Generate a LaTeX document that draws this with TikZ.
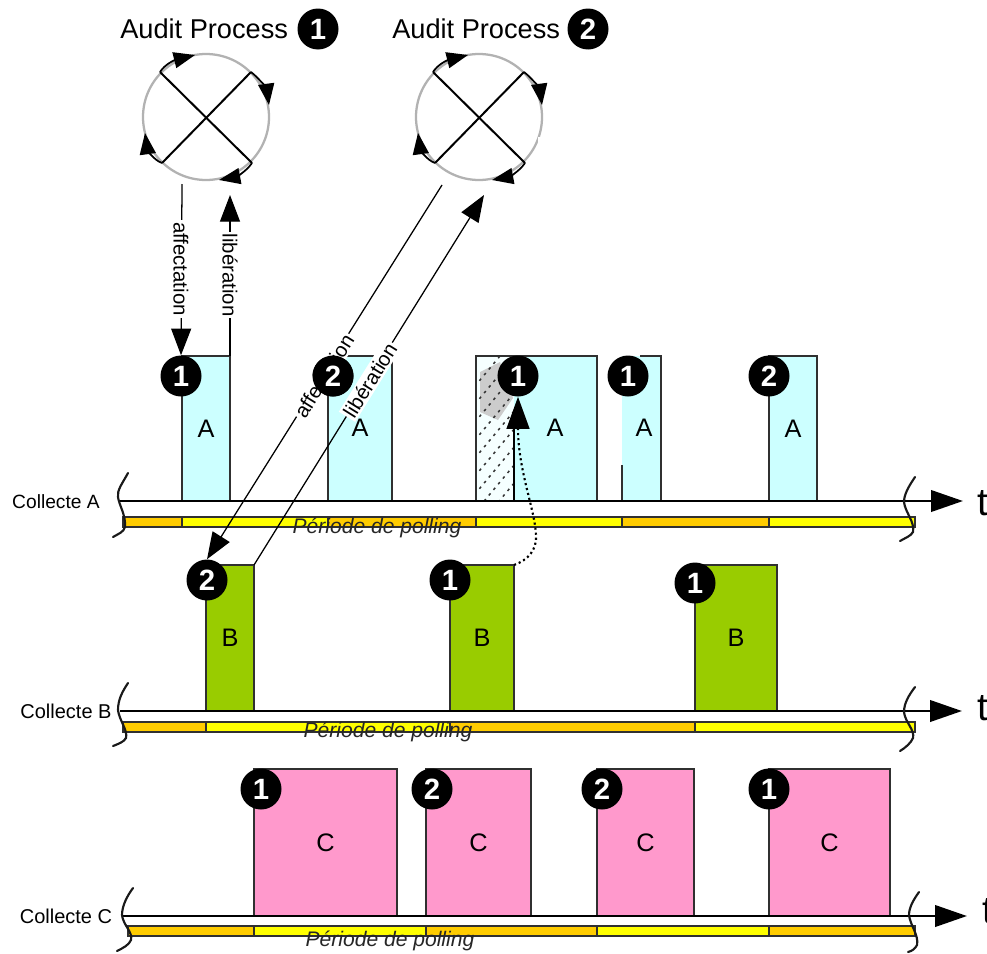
\documentclass[tikz,border=0pt]{standalone}
\usepackage{fontspec}
\setmainfont{Liberation Sans}
\usetikzlibrary{arrows.meta}
\definecolor{cya}{HTML}{CCFFFF}
\definecolor{grn}{HTML}{99CC00}
\definecolor{pnk}{HTML}{FF99CC}
\definecolor{org}{HTML}{FFCC00}
\definecolor{yel}{HTML}{FFFF00}
\definecolor{edge}{HTML}{303030}
\tikzset{
  x=0.75pt,y=-0.75pt,
  num/.style={circle,fill=black,text=white,minimum size=30.75pt,inner sep=0pt,font=\fontsize{22}{22}\selectfont\bfseries},
  collbox/.style={draw=edge,line width=1.1pt,anchor=south west,inner sep=0pt,outer sep=0pt,font=\fontsize{19}{19}\selectfont},
  boxa/.style={collbox,fill=cya},
  boxb/.style={collbox,fill=grn},
  boxc/.style={collbox,fill=pnk},
  boxletter/.style={font=\fontsize{19}{19}\selectfont,inner sep=0pt},
  title/.style={anchor=west,font=\fontsize{20.4}{20.4}\selectfont,inner sep=0pt},
  colname/.style={font=\fontsize{14.4}{14.4}\selectfont,inner sep=0pt},
  colnameb/.style={font=\fontsize{15}{15}\selectfont,inner sep=0pt},
  axisline/.style={line width=2.2pt,-{Triangle[length=24pt,width=16pt]}},
  barseg/.style={draw=edge,line width=0.9pt},
  squig/.style={line width=1.6pt,line cap=round,black!90},
  polling/.style={font=\fontsize{15.8}{15.8}\selectfont\itshape,text=black!85,inner sep=0pt},
  timelabel/.style={anchor=west,font=\fontsize{29}{29}\selectfont,inner sep=0pt},
  assign/.style={line width=0.95pt,black,-{Triangle[length=20pt,width=15pt]}},
  edgelabel/.style={fill=white,inner sep=1.5pt,font=\fontsize{15.3}{15.3}\selectfont},
  spin/.style={line width=1.3pt,-{Triangle[length=16pt,width=12pt]}},
  ring/.style={draw=black!30,line width=1.7pt,circle,minimum size=94.5pt,inner sep=0pt},
  crossline/.style={line width=1.5pt},
}
\begin{document}
\begin{tikzpicture}
\useasboundingbox (0,0) rectangle (987,953);
\fill[white] (0,0) rectangle (987,953);

% Audit processes
\node[title] (t1) at (120,29) {Audit Process};
\node[title] (t2) at (392,29) {Audit Process};
\node[num] (tn1) at (318,29) {1};
\node[num] (tn2) at (588,29) {2};

\foreach \dx/\nm in {0/p,273/q}{
\begin{scope}[xshift=\dx*0.75pt]
  \node[ring] (\nm) at (206,117) {};
  \coordinate (\nm a) at (160,72);
  \coordinate (\nm b) at (251,72);
  \coordinate (\nm c) at (252,163);
  \coordinate (\nm d) at (162,163);
  \draw[crossline] (\nm a) -- (\nm c);
  \draw[crossline] (\nm b) -- (\nm d);
  \draw[spin] (\nm a) .. controls (165,64) and (175,60) .. (195,55);
  \draw[spin] (\nm b) .. controls (260,79) and (267,90) .. (269,105);
  \draw[spin] (\nm c) .. controls (246,172) and (235,177) .. (219,180);
  \draw[spin] (\nm d) .. controls (153,160) and (147,148) .. (145,133);
\end{scope}
}
\fill[white] (538,137) rectangle (548,150);

% Boxes
\node[boxa,minimum width=48*0.75pt,minimum height=145*0.75pt] (a1) at (182,501) {A};
\node[boxa,minimum width=64*0.75pt,minimum height=145*0.75pt] (a2) at (328,501) {};
\node[boxletter] at (360,428) {A};
\node[boxa,minimum width=121*0.75pt,minimum height=145*0.75pt] (a3) at (476,501) {};
\node[boxletter] (a3l) at (555,428) {A};
\begin{scope}
  \clip (477,357) rectangle (514,500);
  \fill[white!80!cya] (477,357) rectangle (514,500);
  \fill[black!20] (480,372) -- (500,362) -- (513,398) -- (498,420) -- (480,412) -- cycle;
  \foreach \k in {0,...,9}{
    \draw[black!80,line width=1.1pt,dash pattern=on 2pt off 3.5pt] (470,392+\k*18) -- (530,392+\k*18-72);
  }
\end{scope}
\draw[edge,line width=1.1pt] (476,356) rectangle (597,501);
\draw[black,line width=1.1pt] (514,428) -- (514,501);
\fill[cya] (622,356) rectangle (661,501);
\draw[edge,line width=1.1pt] (622,465) -- (622,501) (661,501) -- (661,356) -- (640,356);
\node[boxletter] (a4l) at (644,428) {A};
\node[boxa,minimum width=48*0.75pt,minimum height=145*0.75pt] (a5) at (769,501) {A};

\node[boxb,minimum width=48*0.75pt,minimum height=146*0.75pt] (b1) at (206,711) {B};
\node[boxb,minimum width=64*0.75pt,minimum height=146*0.75pt] (b2) at (450,711) {B};
\node[boxb,minimum width=82*0.75pt,minimum height=146*0.75pt] (b3) at (695,711) {B};

\node[boxc,minimum width=143*0.75pt,minimum height=147*0.75pt] (c1) at (254,916) {C};
\node[boxc,minimum width=105*0.75pt,minimum height=147*0.75pt] (c2) at (426,916) {C};
\node[boxc,minimum width=97*0.75pt,minimum height=147*0.75pt] (c3) at (597,916) {C};
\node[boxc,minimum width=121*0.75pt,minimum height=147*0.75pt] (c4) at (769,916) {C};

% Axes
\coordinate (ax0) at (120,501); \coordinate (ax1) at (963,501);
\coordinate (bx0) at (120,711); \coordinate (bx1) at (962,711);
\coordinate (cx0) at (122,916); \coordinate (cx1) at (967,916);
\draw[axisline] (ax0) -- (ax1);
\draw[axisline] (bx0) -- (bx1);
\draw[axisline] (cx0) -- (cx1);
\node[timelabel] (ta) at (977,503) {t};
\node[timelabel] (tb) at (977,708) {t};
\node[timelabel] (tc) at (982,911) {t};

% Polling bars
\foreach \xa/\xb/\col in {123/182/org,182/328/yel,328/476/org,476/622/yel,622/769/org,769/915/yel}
  \draw[barseg,fill=\col] (\xa,517) rectangle (\xb,527);
\foreach \xa/\xb/\col in {123/206/org,206/450/yel,450/695/org,695/915/yel}
  \draw[barseg,fill=\col] (\xa,722) rectangle (\xb,732);
\foreach \xa/\xb/\col in {128/254/org,254/426/yel,426/597/org,597/769/yel,769/915/org}
  \draw[barseg,fill=\col] (\xa,926) rectangle (\xb,936);

% Squiggles
\draw[squig] (128,473) .. controls (122,484) and (117,490) .. (118,497) .. controls (119,505) and (126,515) .. (125,527) .. controls (124,532) and (118,534) .. (113,537);
\draw[squig] (915,477) .. controls (909,486) and (904,494) .. (904,502) .. controls (905,512) and (915,522) .. (913,532) .. controls (911,536) and (905,538) .. (900,541);
\draw[squig] (128,683) .. controls (122,692) and (118,700) .. (118,710) .. controls (119,720) and (128,730) .. (126,738) .. controls (124,742) and (118,744) .. (113,746);
\draw[squig] (915,687) .. controls (909,695) and (904,703) .. (904,712) .. controls (905,722) and (915,730) .. (913,738) .. controls (911,743) and (905,748) .. (900,751);
\draw[squig] (133,888) .. controls (127,896) and (122,906) .. (122,915) .. controls (123,925) and (133,932) .. (131,940) .. controls (129,945) and (123,948) .. (117,951);
\draw[squig] (919,892) .. controls (914,899) and (909,907) .. (909,915) .. controls (910,925) and (919,935) .. (917,945) .. controls (915,949) and (912,951) .. (908,952);

% Number badges (nodes first so connectors can name them)
\node[num] (na1) at (181,376) {1};
\node[num] (na2) at (333,376) {2};
\node[num] (na3) at (518,376) {1};
\node[num] (na4) at (628,376) {1};
\node[num] (na5) at (769,376) {2};
\node[num] (nb1) at (207,580) {2};
\node[num] (nb2) at (450,580) {1};
\node[num] (nb3) at (695,583) {1};
\node[num] (nc1) at (261,789) {1};
\node[num] (nc2) at (432,789) {2};
\node[num] (nc3) at (602,789) {2};
\node[num] (nc4) at (769,789) {1};

% Connectors
\coordinate (pout) at (182,184);
\coordinate (pin) at (230,195);
\coordinate (qout) at (442,185);
\coordinate (qin) at (484,195);
\draw[assign] (pout) -- (na1.north);
\draw[assign] (a1.north east) -- (pin);
\draw[assign] (qout) -- (nb1.north);
\draw[assign] (b1.north east) -- (qin);
\draw[line width=1.6pt,dash pattern=on 1.6pt off 2.2pt,-{Triangle[length=24pt,width=17pt]}] (b2.north east) .. controls (528,560) and (537,550) .. (536,535) .. controls (535,510) and (518,470) .. (na3.south);

% Connector labels
\node[edgelabel,rotate=-90] at (181,269) {affectation};
\node[edgelabel,rotate=-90] at (230,275) {libération};
\node[edgelabel,rotate=58] at (324,376) {affectation};
\node[edgelabel,rotate=58] at (370,380) {libération};

% Badge that overlaps a label is redrawn on top
\node[num] at (333,376) {2};

% Names and period labels
\node[colname] (la) at (56,502) {Collecte A};
\node[colnameb] (lb) at (66,711) {Collecte B};
\node[colnameb] (lc) at (66,916) {Collecte C};
\node[polling] at (377,528) {Période de polling};
\node[polling] at (388,732) {Période de polling};
\node[polling] at (390,941) {Période de polling};
\end{tikzpicture}
\end{document}
